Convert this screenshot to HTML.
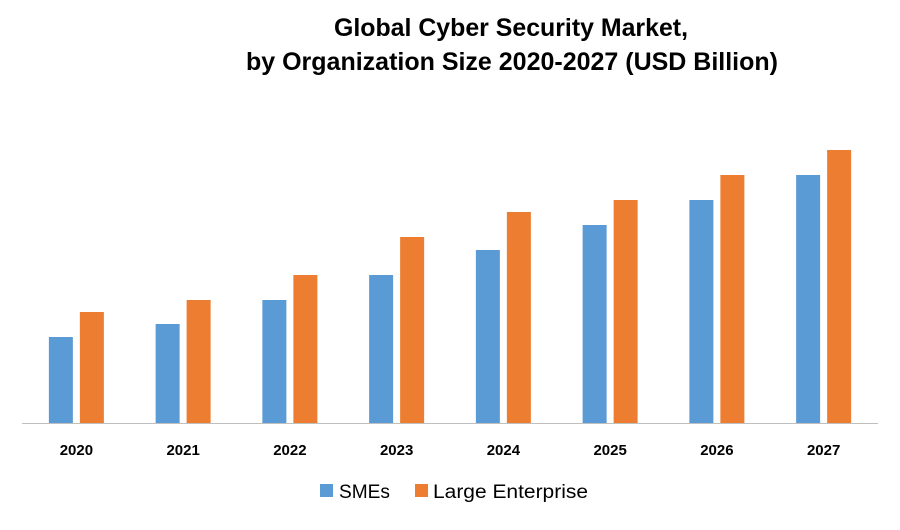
<!DOCTYPE html>
<html><head><meta charset="utf-8"><style>
body{margin:0;background:#fff;width:900px;height:525px;overflow:hidden;font-family:"Liberation Sans",sans-serif}
</style></head><body>
<svg width="900" height="525" xmlns="http://www.w3.org/2000/svg">
<text x="334" y="36" textLength="354" lengthAdjust="spacingAndGlyphs" font-family="Liberation Sans, sans-serif" font-weight="bold" font-size="25" fill="#000">Global Cyber Security Market,</text>
<text x="246" y="70" textLength="532" lengthAdjust="spacingAndGlyphs" font-family="Liberation Sans, sans-serif" font-weight="bold" font-size="25" fill="#000">by Organization Size 2020-2027 (USD Billion)</text>
<g id="plot"></g>
<line x1="22" y1="423.5" x2="878" y2="423.5" stroke="#bfbfbf" stroke-width="1"/>
<g>
<rect x="320" y="484" width="13" height="13" fill="#5b9bd5"/>
<text x="339" y="498" textLength="51" lengthAdjust="spacingAndGlyphs" font-size="19" fill="#000">SMEs</text>
<rect x="415" y="484" width="13" height="13" fill="#ed7d31"/>
<text x="433" y="498" textLength="155" lengthAdjust="spacingAndGlyphs" font-size="19" fill="#000">Large Enterprise</text>
</g>
</svg>
<script>
const categories=["2020","2021","2022","2023","2024","2025","2026","2027"];
const smes=[3.44,3.96,4.92,5.92,6.92,7.92,8.92,9.92];
const large=[4.44,4.92,5.92,7.44,8.44,8.92,9.92,10.92];
const NS="http://www.w3.org/2000/svg";
const g=document.getElementById("plot");
const x0=23,band=106.75,base=423,pxPer=25,bw=24,gap=7;
function xScale(i){return x0+band*i+band/2;}
function yScale(v){return base-v*pxPer;}
categories.forEach((c,i)=>{
  const cx=xScale(i);
  const r1=document.createElementNS(NS,"rect");
  r1.setAttribute("x",cx-gap/2-bw);r1.setAttribute("y",yScale(smes[i]));
  r1.setAttribute("width",bw);r1.setAttribute("height",base-yScale(smes[i]));
  r1.setAttribute("fill","#5b9bd5");
  
  
  g.appendChild(r1);
  const r2=document.createElementNS(NS,"rect");
  r2.setAttribute("x",cx+gap/2);r2.setAttribute("y",yScale(large[i]));
  r2.setAttribute("width",bw);r2.setAttribute("height",base-yScale(large[i]));
  r2.setAttribute("fill","#ed7d31");
  
  
  g.appendChild(r2);
  const t=document.createElementNS(NS,"text");
  t.setAttribute("x",cx);t.setAttribute("y",455);
  t.setAttribute("text-anchor","middle");t.setAttribute("font-size","15");
  t.setAttribute("font-weight","bold");t.textContent=c;
  
  
  g.appendChild(t);
});
</script>
</body></html>
